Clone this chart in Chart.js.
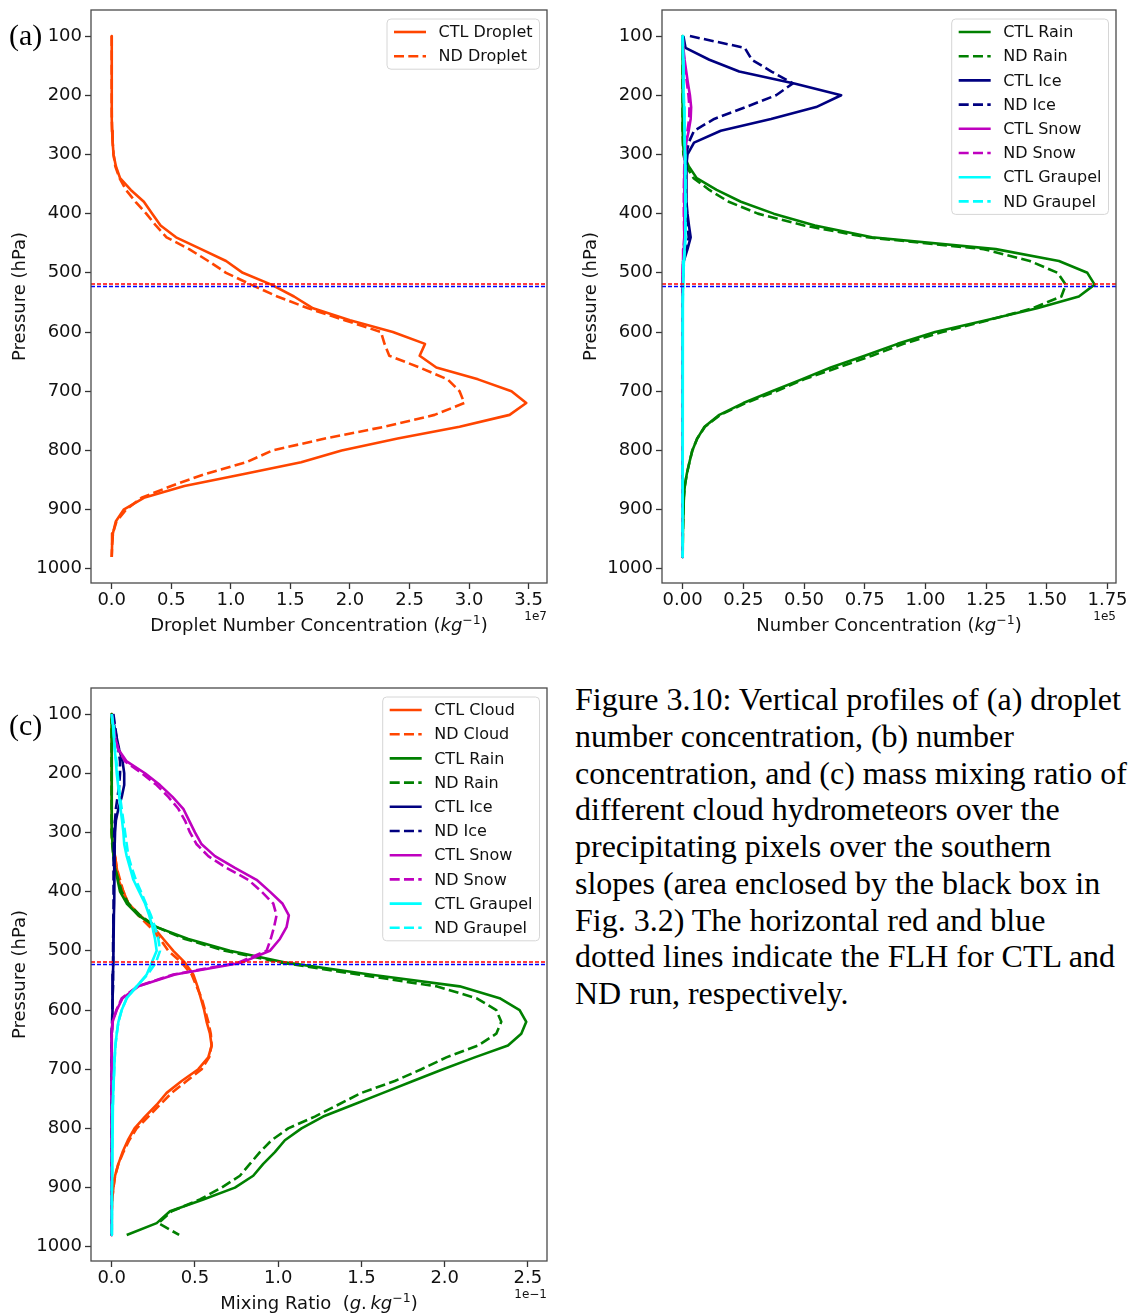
<!DOCTYPE html>
<html>
<head>
<meta charset="utf-8">
<script src="https://cdn.jsdelivr.net/npm/chart.js@4.4.0/dist/chart.umd.min.js"></script>
<style>
  body { margin: 0; background: #fff; }
  #page { position: relative; width: 1131px; height: 1314px; overflow: hidden; background: #fff; }
  #page canvas { position: absolute; }
  .tag { position: absolute; font-family: "Liberation Serif", "Times New Roman", serif; font-size: 30px; line-height: 30px; color: #000; }
  #caption { position: absolute; left: 575px; top: 681px; font-family: "Liberation Serif", "Times New Roman", serif;
             font-size: 32px; line-height: 36.75px; white-space: nowrap; color: #000; }
</style>
</head>
<body>
<div id="page">
  <canvas id="chartA" width="565" height="650" style="left:0;top:0"></canvas>
  <canvas id="chartB" width="560" height="650" style="left:571px;top:0"></canvas>
  <canvas id="chartC" width="565" height="650" style="left:0;top:678px"></canvas>
  <div class="tag" style="left:9px;top:20px">(a)</div>
  <div class="tag" style="left:9px;top:710px">(c)</div>
  <div id="caption">Figure 3.10: Vertical profiles of (a) droplet<br>number concentration, (b) number<br>concentration, and (c) mass mixing ratio of<br>different cloud hydrometeors over the<br>precipitating pixels over the southern<br>slopes (area enclosed by the black box in<br>Fig. 3.2) The horizontal red and blue<br>dotted lines indicate the FLH for CTL and<br>ND run, respectively.</div>
</div>
<script>
// pressure levels (hPa), top of the profile first
const levels = [100, 120, 140, 160, 180, 200, 220, 240, 260, 280,
                300, 320, 340, 360, 380, 400, 420, 440, 460, 480,
                500, 520, 540, 560, 580, 600, 620, 640, 660, 680,
                700, 720, 740, 760, 780, 800, 820, 840, 860, 880,
                900, 920, 940, 960, 980];

// freezing level height (hPa) for the two runs
const flhCtl = 519;
const flhNd = 523;

// (a) droplet number concentration, units of 1e7 kg^-1
const ctlDroplet = [0, 0, 0, 0, 0, 0, 0, 0.001, 0.003, 0.008,
                    0.015, 0.035, 0.07, 0.16, 0.27, 0.34, 0.41, 0.54, 0.75, 0.96,
                    1.10, 1.34, 1.53, 1.69, 2.00, 2.36, 2.63, 2.585, 2.725, 3.075,
                    3.356, 3.48, 3.34, 2.92, 2.40, 1.93, 1.59, 1.11, 0.61, 0.27,
                    0.10, 0.034, 0.01, 0.003, 0];
const ndDroplet = [0, 0, 0, 0, 0, 0, 0, 0.001, 0.003, 0.008,
                   0.015, 0.03, 0.065, 0.12, 0.20, 0.29, 0.37, 0.46, 0.65, 0.81,
                   0.96, 1.17, 1.39, 1.65, 1.955, 2.26, 2.29, 2.33, 2.585, 2.82,
                   2.92, 2.96, 2.71, 2.29, 1.79, 1.35, 1.13, 0.78, 0.50, 0.25,
                   0.12, 0.04, 0.01, 0.003, 0];

// (b) number concentration, units of 1e5 kg^-1
const ctlRainN = [0, 0, 0, 0, 0, 0, 0, 0, 0, 0.002,
                  0.005, 0.025, 0.058, 0.14, 0.24, 0.375, 0.545, 0.78, 1.29, 1.55,
                  1.667, 1.697, 1.632, 1.46, 1.25, 1.04, 0.885, 0.75, 0.61, 0.49,
                  0.368, 0.25, 0.151, 0.09, 0.06, 0.04, 0.028, 0.017, 0.009, 0.005,
                  0.003, 0.002, 0.001, 0.0005, 0];
const ndRainN = [0, 0, 0, 0, 0, 0, 0, 0, 0, 0.001,
                 0.003, 0.015, 0.045, 0.11, 0.19, 0.31, 0.50, 0.76, 1.24, 1.43,
                 1.545, 1.578, 1.56, 1.44, 1.26, 1.07, 0.91, 0.78, 0.64, 0.50,
                 0.385, 0.26, 0.155, 0.092, 0.06, 0.04, 0.028, 0.017, 0.009, 0.005,
                 0.003, 0.002, 0.001, 0.0005, 0];
const ctlIceN = [0.003, 0.012, 0.11, 0.233, 0.46, 0.653, 0.55, 0.364, 0.157, 0.047,
                 0.02, 0.015, 0.015, 0.015, 0.017, 0.02, 0.026, 0.033, 0.02, 0.005,
                 0.002, 0, 0, 0, 0, 0, 0, 0, 0, 0,
                 0, 0, 0, 0, 0, 0, 0, 0, 0, 0,
                 0, 0, 0, 0, 0];
const ndIceN = [0.03, 0.256, 0.285, 0.366, 0.454, 0.385, 0.26, 0.13, 0.047, 0.025,
                0.015, 0.012, 0.012, 0.012, 0.014, 0.017, 0.02, 0.025, 0.015, 0.004,
                0.002, 0, 0, 0, 0, 0, 0, 0, 0, 0,
                0, 0, 0, 0, 0, 0, 0, 0, 0, 0,
                0, 0, 0, 0, 0];
const ctlSnowN = [0, 0.003, 0.008, 0.015, 0.022, 0.03, 0.035, 0.033, 0.025, 0.015,
                  0.01, 0.008, 0.007, 0.006, 0.006, 0.006, 0.007, 0.008, 0.005, 0.002,
                  0, 0, 0, 0, 0, 0, 0, 0, 0, 0,
                  0, 0, 0, 0, 0, 0, 0, 0, 0, 0,
                  0, 0, 0, 0, 0];
const ndSnowN = [0, 0.002, 0.006, 0.012, 0.018, 0.024, 0.028, 0.027, 0.02, 0.012,
                 0.008, 0.007, 0.006, 0.005, 0.005, 0.005, 0.006, 0.007, 0.004, 0.002,
                 0, 0, 0, 0, 0, 0, 0, 0, 0, 0,
                 0, 0, 0, 0, 0, 0, 0, 0, 0, 0,
                 0, 0, 0, 0, 0];
const ctlGraupelN = [0, 0.001, 0.002, 0.003, 0.004, 0.005, 0.006, 0.007, 0.008, 0.009,
                     0.01, 0.011, 0.011, 0.012, 0.012, 0.012, 0.011, 0.01, 0.008, 0.005,
                     0.003, 0.002, 0.001, 0, 0, 0, 0, 0, 0, 0,
                     0, 0, 0, 0, 0, 0, 0, 0, 0, 0,
                     0, 0, 0, 0, 0];
const ndGraupelN = [0, 0.001, 0.002, 0.003, 0.004, 0.005, 0.006, 0.007, 0.008, 0.009,
                    0.01, 0.011, 0.012, 0.012, 0.013, 0.013, 0.012, 0.011, 0.009, 0.006,
                    0.003, 0.002, 0.001, 0, 0, 0, 0, 0, 0, 0,
                    0, 0, 0, 0, 0, 0, 0, 0, 0, 0,
                    0, 0, 0, 0, 0];

// (c) mass mixing ratio, units of 1e-1 g kg^-1
const ctlCloudQ = [0, 0, 0, 0, 0, 0, 0, 0, 0, 0,
                   0, 0.005, 0.02, 0.03, 0.04, 0.07, 0.10, 0.17, 0.25, 0.31,
                   0.37, 0.44, 0.49, 0.515, 0.535, 0.555, 0.57, 0.59, 0.60, 0.58,
                   0.52, 0.42, 0.33, 0.27, 0.20, 0.137, 0.097, 0.065, 0.04, 0.02,
                   0.01, 0.003, 0, 0, 0];
const ndCloudQ = [0, 0, 0, 0, 0, 0, 0, 0, 0, 0,
                  0, 0.005, 0.02, 0.03, 0.05, 0.07, 0.10, 0.16, 0.23, 0.29,
                  0.34, 0.42, 0.48, 0.51, 0.54, 0.56, 0.58, 0.595, 0.60, 0.585,
                  0.54, 0.45, 0.36, 0.29, 0.22, 0.15, 0.105, 0.07, 0.04, 0.02,
                  0.01, 0.003, 0, 0, 0];
const ctlRainQ = [0, 0, 0, 0, 0, 0, 0, 0, 0, 0,
                  0, 0.005, 0.01, 0.02, 0.035, 0.05, 0.09, 0.16, 0.27, 0.46,
                  0.71, 1.05, 1.55, 2.09, 2.33, 2.45, 2.49, 2.46, 2.38, 2.18,
                  1.99, 1.81, 1.63, 1.45, 1.27, 1.14, 1.04, 0.98, 0.91, 0.85,
                  0.74, 0.55, 0.35, 0.27, 0.09];
const ndRainQ = [0, 0, 0, 0, 0, 0, 0, 0, 0, 0,
                 0, 0.003, 0.01, 0.02, 0.04, 0.06, 0.10, 0.17, 0.27, 0.44,
                 0.68, 1.02, 1.48, 1.95, 2.19, 2.31, 2.34, 2.31, 2.20, 2.01,
                 1.86, 1.70, 1.50, 1.36, 1.22, 1.06, 0.96, 0.89, 0.83, 0.77,
                 0.66, 0.53, 0.36, 0.28, 0.405];
const ctlIceQ = [0.005, 0.015, 0.03, 0.045, 0.065, 0.075, 0.075, 0.06, 0.04, 0.025,
                 0.02, 0.018, 0.016, 0.015, 0.015, 0.015, 0.014, 0.013, 0.012, 0.01,
                 0.009, 0.008, 0.007, 0.006, 0.005, 0.004, 0.002, 0, 0, 0,
                 0, 0, 0, 0, 0, 0, 0, 0, 0, 0,
                 0, 0, 0, 0, 0];
const ndIceQ = [0.01, 0.02, 0.03, 0.04, 0.05, 0.05, 0.045, 0.035, 0.025, 0.02,
                0.015, 0.013, 0.012, 0.011, 0.011, 0.011, 0.011, 0.011, 0.011, 0.008,
                0.008, 0.008, 0.008, 0.008, 0.005, 0.004, 0.002, 0, 0, 0,
                0, 0, 0, 0, 0, 0, 0, 0, 0, 0,
                0, 0, 0, 0, 0];
const ctlSnowQ = [0, 0.01, 0.02, 0.04, 0.09, 0.20, 0.29, 0.365, 0.43, 0.465,
                  0.50, 0.54, 0.62, 0.74, 0.87, 0.95, 1.025, 1.064, 1.05, 1.01,
                  0.95, 0.78, 0.38, 0.16, 0.065, 0.03, 0.005, 0, 0, 0,
                  0, 0, 0, 0, 0, 0, 0, 0, 0, 0,
                  0, 0, 0, 0, 0];
const ndSnowQ = [0, 0.01, 0.02, 0.04, 0.08, 0.18, 0.27, 0.34, 0.40, 0.44,
                 0.47, 0.51, 0.58, 0.69, 0.82, 0.90, 0.97, 0.99, 0.975, 0.955,
                 0.93, 0.76, 0.37, 0.155, 0.06, 0.028, 0.005, 0, 0, 0,
                 0, 0, 0, 0, 0, 0, 0, 0, 0, 0,
                 0, 0, 0, 0, 0];
const ctlGraupelQ = [0, 0.008, 0.013, 0.018, 0.025, 0.03, 0.038, 0.045, 0.053, 0.062,
                     0.07, 0.075, 0.09, 0.11, 0.13, 0.165, 0.20, 0.225, 0.245, 0.26,
                     0.27, 0.24, 0.21, 0.15, 0.09, 0.06, 0.04, 0.03, 0.022, 0.018,
                     0.015, 0.012, 0.009, 0.007, 0.005, 0.004, 0.003, 0.002, 0.002, 0.002,
                     0.001, 0.001, 0.001, 0.001, 0];
const ndGraupelQ = [0, 0.008, 0.015, 0.02, 0.028, 0.035, 0.043, 0.05, 0.06, 0.07,
                    0.08, 0.09, 0.10, 0.12, 0.145, 0.175, 0.205, 0.235, 0.26, 0.28,
                    0.29, 0.265, 0.215, 0.15, 0.09, 0.06, 0.04, 0.03, 0.022, 0.018,
                    0.015, 0.012, 0.009, 0.007, 0.005, 0.004, 0.003, 0.002, 0.002, 0.002,
                    0.001, 0.001, 0.001, 0.001, 0];

// tick positions
const pressureTicks = [100, 200, 300, 400, 500, 600, 700, 800, 900, 1000];
const dropletTicks = [0, 0.5, 1.0, 1.5, 2.0, 2.5, 3.0, 3.5];
const numberTicks = [0, 0.25, 0.5, 0.75, 1.0, 1.25, 1.5, 1.75];
const mixingTicks = [0, 0.5, 1.0, 1.5, 2.0, 2.5];

const FONT = '"DejaVu Sans", Verdana, sans-serif';
const ORANGE = '#ff4500', GREEN = '#008000', NAVY = '#000080', MAGENTA = '#bf00bf', CYAN = '#00ffff';
const ND_DASH = [10, 4.3];

function profile(label, values, color, dashed) {
  return {
    label: label,
    data: values.map((v, i) => ({ x: v, y: levels[i] })),
    borderColor: color,
    borderWidth: 2.6,
    borderDash: dashed ? ND_DASH : [],
    borderJoinStyle: 'round',
    borderCapStyle: 'butt',
    pointRadius: 0,
    showLine: true,
    fill: false,
    tension: 0
  };
}

// matplotlib draws later lines on top; chart.js draws low "order" last
function stackOrder(sets) {
  sets.forEach((d, i) => { d.order = sets.length - i; });
  return sets;
}

// draws text pieces (plain / italic / superscript) centred on cx
function drawRuns(ctx, runs, cx, cy) {
  let total = 0;
  runs.forEach(r => { ctx.font = r.font; r.w = ctx.measureText(r.t).width; total += r.w; });
  let x = cx - total / 2;
  ctx.textAlign = 'left';
  ctx.textBaseline = 'alphabetic';
  runs.forEach(r => { ctx.font = r.font; ctx.fillText(r.t, x, cy + (r.dy || 0)); x += r.w; });
}

const decor = {
  id: 'decor',
  afterDatasetsDraw(chart, args, opts) {
    const { ctx, chartArea: a, scales: { y } } = chart;
    ctx.save();
    // freezing level lines
    ctx.lineWidth = 1.6;
    ctx.setLineDash([4, 2]);
    opts.flh.forEach((lev, i) => {
      const py = y.getPixelForValue(lev);
      ctx.strokeStyle = i === 0 ? '#ff0000' : '#0000ff';
      ctx.beginPath();
      ctx.moveTo(a.left, py);
      ctx.lineTo(a.right, py);
      ctx.stroke();
    });
    ctx.setLineDash([]);

    // legend box in the upper right corner
    const sets = chart.data.datasets;
    ctx.font = '16px ' + FONT;
    const textW = Math.max(...sets.map(d => ctx.measureText(d.label).width));
    const rowH = 24.2, pad = 7, handle = 32, gap = 12.5;
    const boxW = pad + handle + gap + textW + pad;
    const boxH = (sets.length - 1) * rowH + 26;
    const bx = a.right - 7.5 - boxW, by = a.top + 9;
    ctx.beginPath();
    ctx.roundRect(bx, by, boxW, boxH, 4);
    ctx.fillStyle = 'rgba(255,255,255,0.85)';
    ctx.fill();
    ctx.strokeStyle = '#d6d6d6';
    ctx.lineWidth = 1;
    ctx.stroke();
    sets.forEach((d, i) => {
      const ry = by + 13 + i * rowH;
      ctx.strokeStyle = d.borderColor;
      ctx.lineWidth = d.borderWidth;
      ctx.setLineDash(d.borderDash);
      ctx.beginPath();
      ctx.moveTo(bx + pad, ry);
      ctx.lineTo(bx + pad + handle, ry);
      ctx.stroke();
      ctx.setLineDash([]);
      ctx.fillStyle = '#111';
      ctx.textAlign = 'left';
      ctx.textBaseline = 'middle';
      ctx.fillText(d.label, bx + pad + handle + gap, ry + 1);
    });
    ctx.restore();
  },
  afterDraw(chart, args, opts) {
    const { ctx, chartArea: a } = chart;
    ctx.save();
    // axes frame
    ctx.strokeStyle = '#4a4a4a';
    ctx.lineWidth = 1.3;
    ctx.strokeRect(a.left, a.top, a.right - a.left, a.bottom - a.top);
    ctx.fillStyle = '#111';
    // y title
    ctx.save();
    ctx.translate(20, (a.top + a.bottom) / 2);
    ctx.rotate(-Math.PI / 2);
    ctx.font = '18px ' + FONT;
    ctx.textAlign = 'center';
    ctx.textBaseline = 'middle';
    ctx.fillText('Pressure (hPa)', 0, 0);
    ctx.restore();
    // x title
    drawRuns(ctx, opts.xTitle, (a.left + a.right) / 2, a.bottom + 48);
    // scale multiplier under the right end of the x axis
    ctx.font = '12px ' + FONT;
    ctx.textAlign = 'right';
    ctx.textBaseline = 'middle';
    ctx.fillText(opts.unit, a.right, a.bottom + 34);
    ctx.restore();
  }
};

const plain = '18px ' + FONT, ital = 'italic 18px ' + FONT, sup = '12.5px ' + FONT;

function makeChart(id, sets, xMin, xMax, xTicks, digits, padRight, xTitle, unit) {
  return new Chart(document.getElementById(id), {
    type: 'scatter',
    data: { datasets: stackOrder(sets) },
    options: {
      responsive: false,
      animation: false,
      events: [],
      layout: { padding: { left: 0, top: 10, right: padRight, bottom: 0 } },
      plugins: {
        legend: { display: false },
        tooltip: { enabled: false },
        decor: { flh: [flhCtl, flhNd], xTitle: xTitle, unit: unit }
      },
      scales: {
        x: {
          type: 'linear', min: xMin, max: xMax,
          afterBuildTicks: s => { s.ticks = xTicks.map(v => ({ value: v })); },
          afterFit: s => { s.height = 67; s.paddingLeft = 0; s.paddingRight = 0; },
          ticks: { callback: v => v.toFixed(digits), color: '#111', font: { family: FONT, size: 18 }, padding: 1, maxRotation: 0, autoSkip: false },
          grid: { drawOnChartArea: false, tickLength: 6, tickWidth: 1.3, tickColor: '#333' },
          border: { display: false }
        },
        y: {
          type: 'linear', reverse: true, min: 56, max: 1024,
          afterBuildTicks: s => { s.ticks = pressureTicks.map(v => ({ value: v })); },
          afterFit: s => { s.width = 91; s.paddingTop = 0; s.paddingBottom = 0; },
          ticks: { callback: v => String(v), color: '#111', font: { family: FONT, size: 18 }, padding: 3, autoSkip: false },
          grid: { drawOnChartArea: false, tickLength: 6, tickWidth: 1.3, tickColor: '#333' },
          border: { display: false }
        }
      }
    },
    plugins: [decor]
  });
}

makeChart('chartA', [
  profile('CTL Droplet', ctlDroplet, ORANGE, false),
  profile('ND Droplet', ndDroplet, ORANGE, true)
], -0.174, 3.654, dropletTicks, 1, 18, [
  { t: 'Droplet Number Concentration (', font: plain },
  { t: 'kg', font: ital },
  { t: '\u22121', font: sup, dy: -7 },
  { t: ')', font: plain }
], '1e7');

makeChart('chartB', [
  profile('CTL Rain', ctlRainN, GREEN, false),
  profile('ND Rain', ndRainN, GREEN, true),
  profile('CTL Ice', ctlIceN, NAVY, false),
  profile('ND Ice', ndIceN, NAVY, true),
  profile('CTL Snow', ctlSnowN, MAGENTA, false),
  profile('ND Snow', ndSnowN, MAGENTA, true),
  profile('CTL Graupel', ctlGraupelN, CYAN, false),
  profile('ND Graupel', ndGraupelN, CYAN, true)
], -0.085, 1.785, numberTicks, 2, 15, [
  { t: 'Number Concentration (', font: plain },
  { t: 'kg', font: ital },
  { t: '\u22121', font: sup, dy: -7 },
  { t: ')', font: plain }
], '1e5');

makeChart('chartC', [
  profile('CTL Cloud', ctlCloudQ, ORANGE, false),
  profile('ND Cloud', ndCloudQ, ORANGE, true),
  profile('CTL Rain', ctlRainQ, GREEN, false),
  profile('ND Rain', ndRainQ, GREEN, true),
  profile('CTL Ice', ctlIceQ, NAVY, false),
  profile('ND Ice', ndIceQ, NAVY, true),
  profile('CTL Snow', ctlSnowQ, MAGENTA, false),
  profile('ND Snow', ndSnowQ, MAGENTA, true),
  profile('CTL Graupel', ctlGraupelQ, CYAN, false),
  profile('ND Graupel', ndGraupelQ, CYAN, true)
], -0.1245, 2.6145, mixingTicks, 1, 18, [
  { t: 'Mixing Ratio  (', font: plain },
  { t: 'g', font: ital },
  { t: '.\u2009', font: plain },
  { t: 'kg', font: ital },
  { t: '\u22121', font: sup, dy: -7 },
  { t: ')', font: plain }
], '1e\u22121');
</script>
</body>
</html>
